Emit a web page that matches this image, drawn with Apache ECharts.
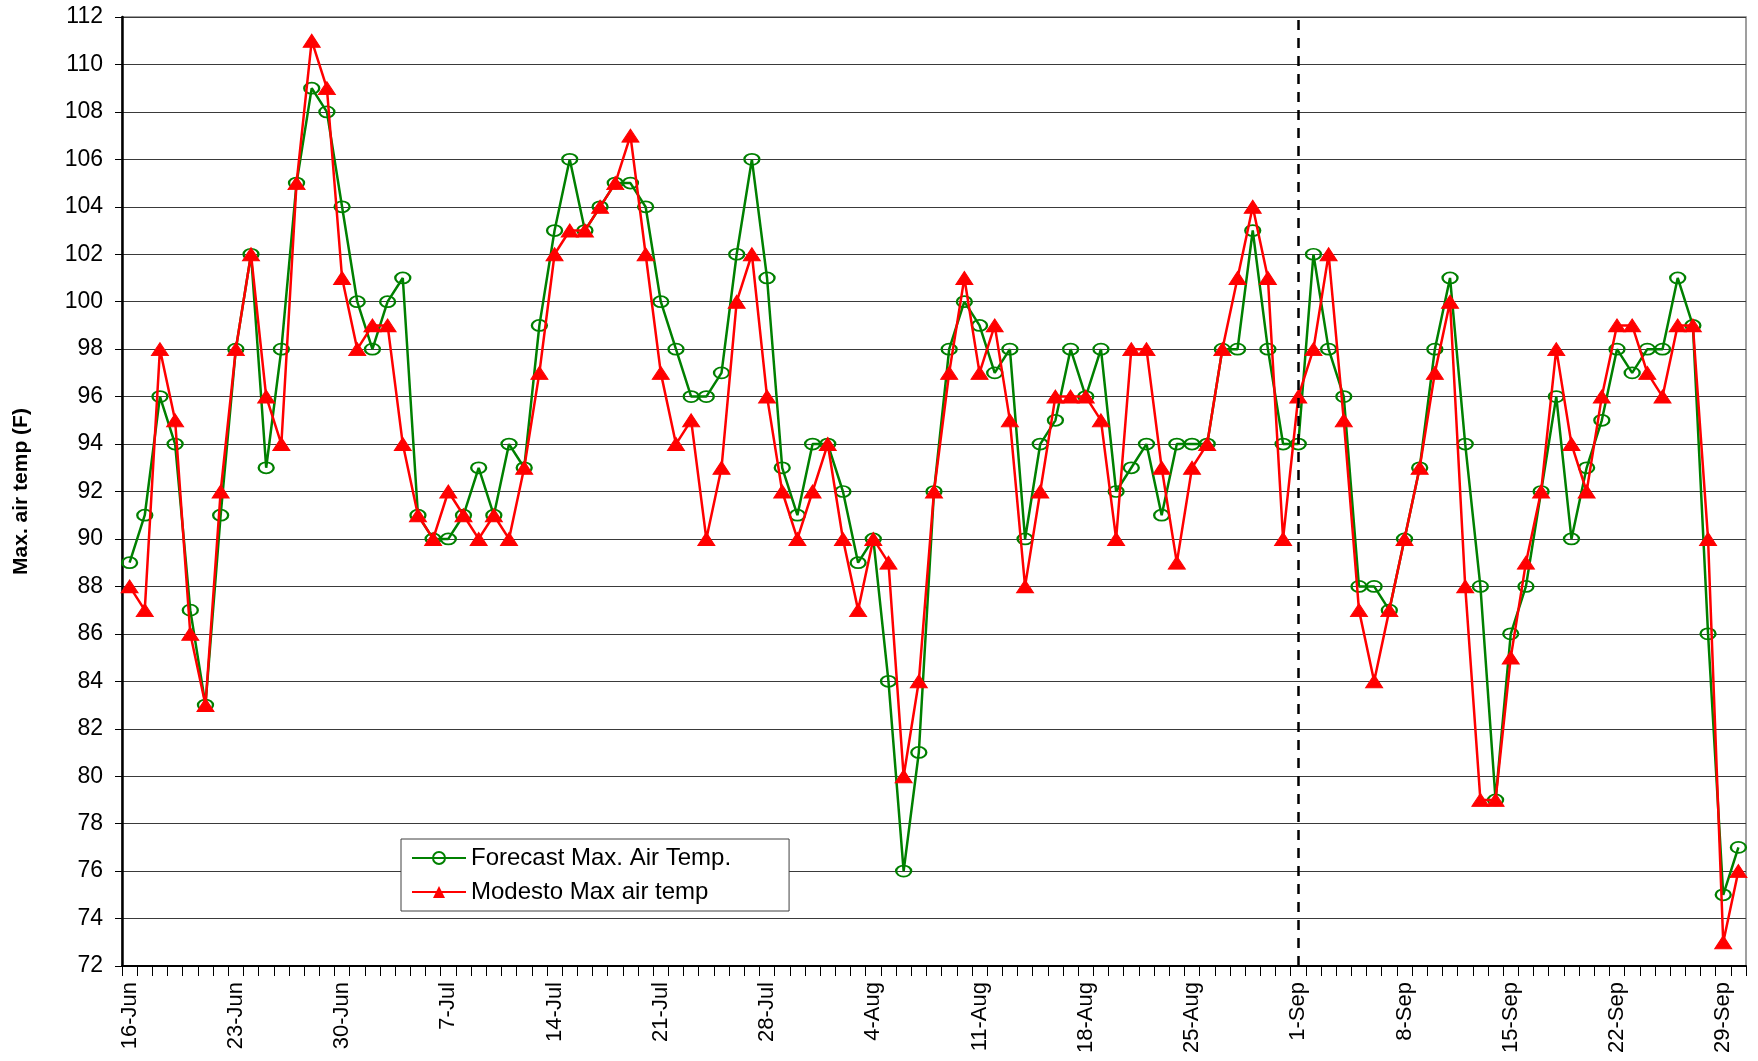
<!DOCTYPE html>
<html>
<head>
<meta charset="utf-8">
<script src="https://cdn.jsdelivr.net/npm/echarts@6/dist/echarts.min.js"></script>
<style>
html,body{margin:0;padding:0;background:#fff;}
#chart{width:1758px;height:1061px;}
</style>
</head>
<body>
<div id="chart"></div>
<script>
const dates = [
 '16-Jun','17-Jun','18-Jun','19-Jun','20-Jun','21-Jun','22-Jun','23-Jun','24-Jun','25-Jun','26-Jun','27-Jun','28-Jun','29-Jun','30-Jun',
 '1-Jul','2-Jul','3-Jul','4-Jul','5-Jul','6-Jul','7-Jul','8-Jul','9-Jul','10-Jul','11-Jul','12-Jul','13-Jul','14-Jul','15-Jul','16-Jul',
 '17-Jul','18-Jul','19-Jul','20-Jul','21-Jul','22-Jul','23-Jul','24-Jul','25-Jul','26-Jul','27-Jul','28-Jul','29-Jul','30-Jul','31-Jul',
 '1-Aug','2-Aug','3-Aug','4-Aug','5-Aug','6-Aug','7-Aug','8-Aug','9-Aug','10-Aug','11-Aug','12-Aug','13-Aug','14-Aug','15-Aug','16-Aug',
 '17-Aug','18-Aug','19-Aug','20-Aug','21-Aug','22-Aug','23-Aug','24-Aug','25-Aug','26-Aug','27-Aug','28-Aug','29-Aug','30-Aug','31-Aug',
 '1-Sep','2-Sep','3-Sep','4-Sep','5-Sep','6-Sep','7-Sep','8-Sep','9-Sep','10-Sep','11-Sep','12-Sep','13-Sep','14-Sep','15-Sep','16-Sep',
 '17-Sep','18-Sep','19-Sep','20-Sep','21-Sep','22-Sep','23-Sep','24-Sep','25-Sep','26-Sep','27-Sep','28-Sep','29-Sep','30-Sep'
];

const forecastMax = [
 89,91,96,94,87,83,91,98,102,93,98,105,109,108,104,
 100,98,100,101,91,90,90,91,93,91,94,93,99,103,106,103,
 104,105,105,104,100,98,96,96,97,102,106,101,93,91,94,
 94,92,89,90,84,76,81,92,98,100,99,97,98,90,94,95,
 98,96,98,92,93,94,91,94,94,94,98,98,103,98,94,
 94,102,98,96,88,88,87,90,93,98,101,94,88,79,86,88,
 92,96,90,93,95,98,97,98,98,101,99,86,75,77
];

const modestoMax = [
 88,87,98,95,86,83,92,98,102,96,94,105,111,109,101,
 98,99,99,94,91,90,92,91,90,91,90,93,97,102,103,103,
 104,105,107,102,97,94,95,90,93,100,102,96,92,90,92,
 94,90,87,90,89,80,84,92,97,101,97,99,95,88,92,96,
 96,96,95,90,98,98,93,89,93,94,98,101,104,101,90,
 96,98,102,95,87,84,87,90,93,97,100,88,79,79,85,89,
 92,98,94,92,96,99,99,97,96,99,99,90,73,76
];

const seriesNames = ['Forecast Max. Air Temp.', 'Modesto Max air temp'];
const markerDate = '1-Sep';
const yMin = 72, yMax = 112, yStep = 2;
const yAxisTitle = 'Max. air temp (F)';

const chart = echarts.init(document.getElementById('chart'), null, {renderer: 'canvas'});
const FONT = '"Liberation Sans", Arial, sans-serif';

chart.setOption({
  animation: false,
  backgroundColor: '#ffffff',
  grid: {
    left: 122, right: 12, top: 17, bottom: 95,
    show: true, borderColor: '#808080', borderWidth: 1.5, backgroundColor: 'transparent'
  },
  legend: {
    orient: 'vertical',
    left: 401, top: 839,
    padding: [7, 58, 7, 10],
    itemGap: 10,
    itemWidth: 54, itemHeight: 15,
    borderColor: '#404040', borderWidth: 1,
    backgroundColor: '#ffffff',
    textStyle: {fontFamily: FONT, fontSize: 24, color: '#000'},
    data: seriesNames
  },
  xAxis: {
    type: 'category',
    data: dates,
    boundaryGap: true,
    axisLine: {show: true, lineStyle: {color: '#000', width: 2}},
    axisTick: {show: true, interval: 0, length: 10, inside: false, lineStyle: {color: '#000', width: 1}},
    axisLabel: {
      interval: 6, rotate: 90, margin: 16,
      fontFamily: FONT, fontSize: 22, color: '#000'
    },
    splitLine: {show: false}
  },
  yAxis: {
    type: 'value',
    min: yMin, max: yMax, interval: yStep,
    name: yAxisTitle,
    nameLocation: 'middle',
    nameGap: 90,
    nameRotate: 90,
    nameTextStyle: {fontFamily: FONT, fontSize: 21, fontWeight: 'bold', color: '#000'},
    axisLine: {show: true, lineStyle: {color: '#000', width: 2.5}},
    axisTick: {show: true, length: 7, lineStyle: {color: '#000', width: 1}},
    axisLabel: {margin: 19, fontFamily: FONT, fontSize: 23, color: '#000'},
    splitLine: {show: true, lineStyle: {color: '#3a3a3a', width: 1.2}}
  },
  series: [
    {
      name: seriesNames[0],
      type: 'line',
      data: forecastMax,
      symbol: 'circle',
      symbolSize: [15, 11],
      showAllSymbol: true,
      lineStyle: {color: '#008000', width: 2.5},
      itemStyle: {color: 'rgba(255,255,255,0)', borderColor: '#008000', borderWidth: 2},
      z: 3
    },
    {
      name: seriesNames[1],
      type: 'line',
      data: modestoMax,
      symbol: 'triangle',
      symbolSize: [17, 13],
      showAllSymbol: true,
      lineStyle: {color: '#ff0000', width: 2.5},
      itemStyle: {color: '#ff0000', borderColor: '#ff0000'},
      z: 4,
      markLine: {
        silent: true,
        symbol: ['none', 'none'],
        label: {show: false},
        lineStyle: {color: '#000', type: [10, 8], width: 2.5},
        data: [{xAxis: markerDate}]
      }
    }
  ]
});
</script>
</body>
</html>
